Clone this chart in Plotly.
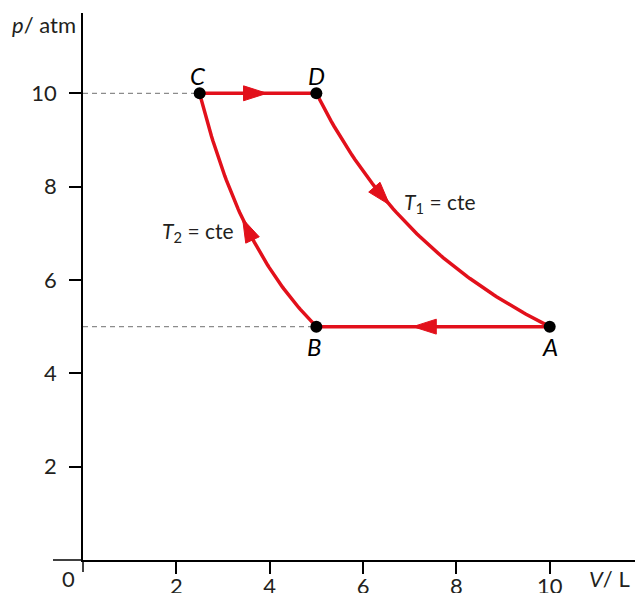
import numpy as np
import plotly.graph_objects as go

# state points of the cycle
STATE_NAMES = ["A", "B", "C", "D"]
STATE_V = [10, 5, 2.5, 5]
STATE_P = [5, 5, 10, 10]

# cycle order and where each arrow tip sits (V value along the segment)
CYCLE = [("A", "B"), ("B", "C"), ("C", "D"), ("D", "A")]
ARROW_TIP_V = [7.07, 3.42, 3.94, 6.57]

X_TICKS = [2, 4, 6, 8, 10]
X_TICK_TEXT = ["2", "4", "6", "8", "10"]
Y_TICKS = [2, 4, 6, 8, 10]
Y_TICK_TEXT = ["2", "4", "6", "8", "10"]

RED = "#e2101b"
INK = "#231f20"
FONT = "Lato"
PX_PER_UNIT = 46.67
W, H = 635, 593
ML, MR, MT, MB = 83, 0, 13, 33
PW, PH = W - ML - MR, H - MT - MB


def segment(a, b, n=80):
    ia, ib = STATE_NAMES.index(a), STATE_NAMES.index(b)
    va, pa, vb, pb = STATE_V[ia], STATE_P[ia], STATE_V[ib], STATE_P[ib]
    v = np.linspace(va, vb, n)
    if pa == pb:
        return v, np.full(n, pa)
    k = va * pa  # isotherm pV = const
    return v, k / v


def arrow(a, b, v_tip, length=0.5, half=0.16):
    ia, ib = STATE_NAMES.index(a), STATE_NAMES.index(b)
    va, pa, vb = STATE_V[ia], STATE_P[ia], STATE_V[ib]
    sgn = 1.0 if vb > va else -1.0
    if pa == STATE_P[ib]:
        p_tip, d = pa, np.array([sgn, 0.0])
    else:
        k = va * pa
        p_tip = k / v_tip
        d = np.array([1.0, -k / v_tip ** 2]) * sgn
        d = d / np.linalg.norm(d)
    perp = np.array([-d[1], d[0]])
    tip = np.array([v_tip, p_tip])
    base = tip - length * d
    c1, c2 = base + half * perp, base - half * perp
    return [tip[0], c1[0], c2[0], tip[0]], [tip[1], c1[1], c2[1], tip[1]]


def build_figure() -> go.Figure:
    fig = go.Figure()

    # dashed guides to the p axis
    for name in ["C", "B"]:
        i = STATE_NAMES.index(name)
        fig.add_trace(go.Scatter(
            x=[0, STATE_V[i]], y=[STATE_P[i], STATE_P[i]], mode="lines",
            line=dict(color="#8c8c8c", width=1.2, dash="5px,4px"),
            hoverinfo="skip", showlegend=False, cliponaxis=False,
        ))

    for (a, b), vt in zip(CYCLE, ARROW_TIP_V):
        x, y = segment(a, b)
        fig.add_trace(go.Scatter(
            x=x, y=y, mode="lines", line=dict(color=RED, width=3.5),
            hoverinfo="skip", showlegend=False, cliponaxis=False,
        ))
        ax, ay = arrow(a, b, vt)
        fig.add_trace(go.Scatter(
            x=ax, y=ay, mode="lines", fill="toself", fillcolor=RED,
            line=dict(color=RED, width=1), hoverinfo="skip", showlegend=False,
        ))

    fig.add_trace(go.Scatter(
        x=STATE_V, y=STATE_P, mode="markers",
        marker=dict(size=12, color="#000000"),
        hoverinfo="skip", showlegend=False, cliponaxis=False,
    ))

    label_offset = {"A": (0, -0.43), "B": (-0.05, -0.43), "C": (-0.03, 0.39), "D": (0.0, 0.39)}
    for name, v, p in zip(STATE_NAMES, STATE_V, STATE_P):
        dx, dy = label_offset[name]
        fig.add_annotation(
            x=v + dx, y=p + dy, text=f"<i>{name}</i>", showarrow=False,
            font=dict(family=FONT, size=24, color="#000000"),
        )

    fig.add_annotation(x=6.83, y=7.65, text="<i>T</i><sub>1</sub> = cte", showarrow=False,
                       xanchor="left", font=dict(family=FONT, size=21, color=INK))
    fig.add_annotation(x=3.27, y=7.03, text="<i>T</i><sub>2</sub> = cte", showarrow=False,
                       xanchor="right", font=dict(family=FONT, size=21, color=INK))

    # axis titles and origin
    fig.add_annotation(x=-73 / PW, y=1 - 12 / PH, xref="paper", yref="paper",
                       xanchor="left", yanchor="middle", text="<i>p</i>/ atm", showarrow=False,
                       font=dict(family=FONT, size=22, color=INK))
    fig.add_annotation(x=1 - 3 / PW, y=-18 / PH, xref="paper", yref="paper",
                       xanchor="right", yanchor="middle", text="<i>V</i>/ L", showarrow=False,
                       font=dict(family=FONT, size=22, color=INK))
    fig.add_annotation(x=-15 / PW, y=-18 / PH, xref="paper", yref="paper",
                       xanchor="center", yanchor="middle", text="0", showarrow=False,
                       font=dict(family=FONT, size=22, color=INK))

    # axis lines continue a little past the origin
    fig.add_shape(type="line", xref="paper", yref="paper", x0=-30 / PW, x1=0,
                  y0=0, y1=0, line=dict(color="#000000", width=1.5))
    fig.add_shape(type="line", xref="paper", yref="paper", x0=0, x1=0,
                  y0=-12 / PH, y1=0, line=dict(color="#000000", width=1.5))

    fig.update_layout(
        width=W, height=H,
        margin=dict(l=ML, r=MR, t=MT, b=MB, autoexpand=False),
        paper_bgcolor="#ffffff", plot_bgcolor="#ffffff",
        font=dict(family=FONT, size=22, color=INK),
        xaxis=dict(
            range=[0, PW / PX_PER_UNIT], showgrid=False, zeroline=False,
            showline=True, linecolor="#000000", linewidth=1.5,
            tickvals=X_TICKS, ticktext=X_TICK_TEXT, ticks="outside", ticklen=12,
            tickwidth=1.5, tickcolor="#000000", ticklabelstandoff=-6,
        ),
        yaxis=dict(
            range=[0, PH / PX_PER_UNIT], showgrid=False, zeroline=False,
            showline=True, linecolor="#000000", linewidth=1.5,
            tickvals=Y_TICKS, ticktext=Y_TICK_TEXT, ticks="outside", ticklen=12,
            tickwidth=1.5, tickcolor="#000000", ticklabelstandoff=8,
        ),
    )
    return fig


fig = build_figure()
fig.write_html("out.html", config={"displayModeBar": False},
               post_script="document.body.style.margin = '0';")
